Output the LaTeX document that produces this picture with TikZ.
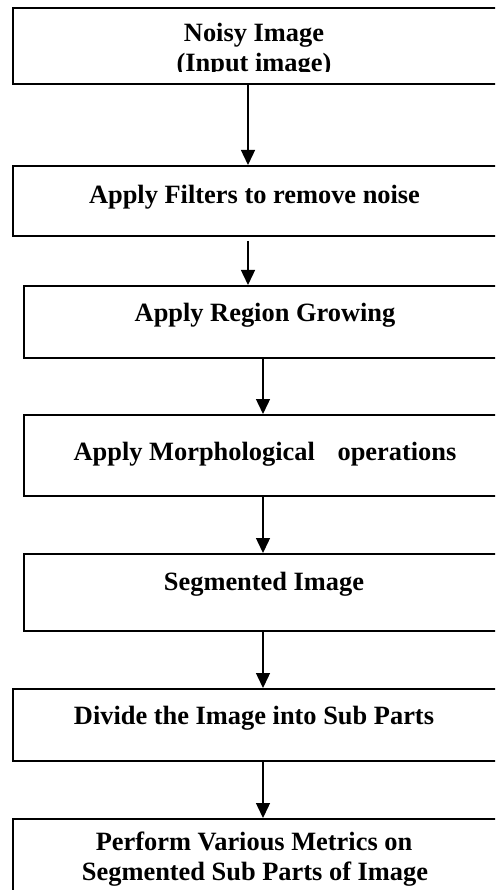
\documentclass[tikz,border=0pt]{standalone}
\usepackage{fontspec}
\setmainfont{Liberation Serif}
\usetikzlibrary{arrows.meta}
\begin{document}
\begin{tikzpicture}[x=1pt,y=-1pt,
  box/.style={draw,line width=1.8pt,inner sep=0pt,anchor=north west},
  lbl/.style={anchor=base,inner sep=0pt,font=\fontsize{26.4}{30}\selectfont\bfseries},
  arr/.style={line width=1.4pt,-{Triangle[width=14pt,length=15pt]}}]
\clip (0,0) rectangle (495,890);
% boxes
\node[box,minimum width=485pt,minimum height=76pt] (b1) at (12,7) {};
\node[box,minimum width=485pt,minimum height=70pt] (b2) at (12,165) {};
\node[box,minimum width=484pt,minimum height=72pt] (b3) at (23,285) {};
\node[box,minimum width=484pt,minimum height=81pt] (b4) at (23,414) {};
\node[box,minimum width=484pt,minimum height=77pt] (b5) at (23,553) {};
\node[box,minimum width=485pt,minimum height=72pt] (b6) at (12,688) {};
\node[box,minimum width=485pt,minimum height=100pt] (b7) at (12,818) {};
% texts
\node[lbl] (t1a) at (254,41.7) {Noisy Image};
\begin{scope}
\clip (0,0) rectangle (495,72);
\node[lbl] (t1b) at (254,71.7) {(Input image)};
\end{scope}
\node[lbl] (t2) at (254.5,203.3) {Apply Filters to remove noise};
\node[lbl] (t3) at (265,321.7) {Apply Region Growing};
\node[lbl] (t4) at (265,460) {Apply Morphological\hspace*{16pt} operations};
\node[lbl] (t5) at (264,590) {Segmented Image};
\node[lbl] (t6) at (254,724.3) {Divide the Image into Sub Parts};
\node[lbl] (t7a) at (254,850.7) {Perform Various Metrics on};
\node[lbl] (t7b) at (255,880) {Segmented Sub Parts of Image};
% arrows
\coordinate (cA) at (248,0);
\coordinate (cB) at (263,0);
\draw[arr] (b1.south -| cA) -- (b2.north -| cA);
\draw[arr,shorten <=4pt] (b2.south -| cA) -- (b3.north -| cA);
\draw[arr] (b3.south -| cB) -- (b4.north -| cB);
\draw[arr] (b4.south -| cB) -- (b5.north -| cB);
\draw[arr] (b5.south -| cB) -- (b6.north -| cB);
\draw[arr] (b6.south -| cB) -- (b7.north -| cB);
\end{tikzpicture}
\end{document}
